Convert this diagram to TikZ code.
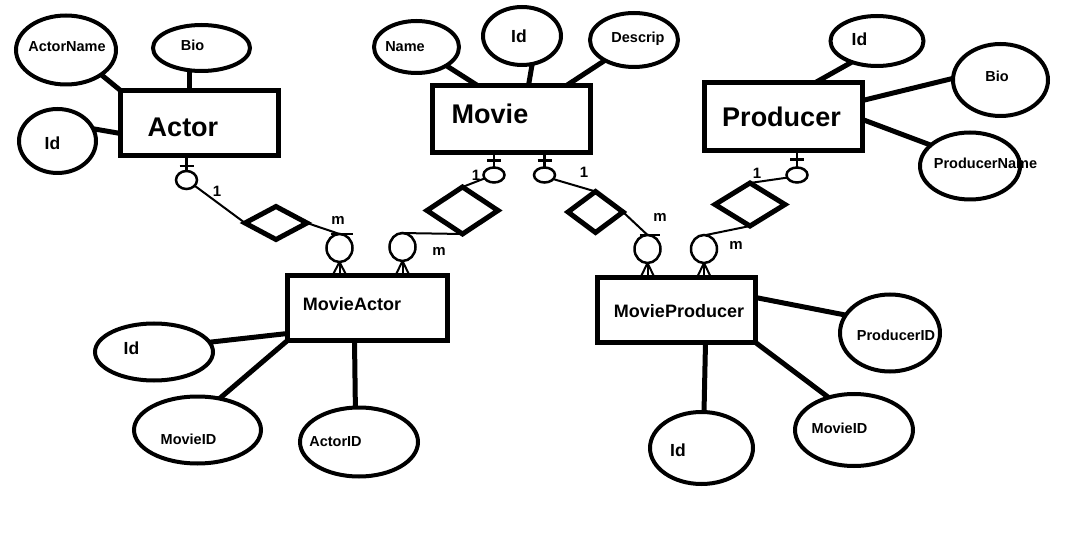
\documentclass[tikz,border=0pt]{standalone}
\usepackage{fontspec}
\setmainfont{Liberation Sans}
\usetikzlibrary{shapes.geometric,calc}
\newcommand\fsz[1]{\fontsize{#1}{#1}\selectfont\bfseries}
\begin{document}
\begin{tikzpicture}[x=1pt,y=-1pt,
  entity/.style={draw,line width=5pt,rectangle,inner sep=0pt,outer sep=0pt},
  attr/.style={draw,line width=4pt,ellipse,inner sep=0pt,outer sep=0pt},
  rel/.style={draw,line width=5pt,diamond,inner sep=0pt,outer sep=0pt,line join=miter},
  crow/.style={draw,line width=2.5pt,ellipse,inner sep=0pt,outer sep=0pt},
  conn/.style={line width=5pt},
  link/.style={line width=2pt},
  txt/.style={anchor=base,inner sep=0pt,outer sep=0pt},
  big/.style={txt,font=\fsz{27}},
  mid/.style={txt,font=\fsz{18}},
  small/.style={txt,font=\fsz{14.5}},
  idt/.style={txt,font=\fsz{17.5}},
  lbl/.style={txt,font=\fsz{15}}]
\fill[white] (0,0) rectangle (1082,553);
\useasboundingbox (0,0) rectangle (1082,553);

% ---------- entities ----------
\node[entity,minimum width=158pt,minimum height=65pt] (actor) at (199.5,123) {};
\node[big] (tactor) at (183,137) {Actor};
\node[entity,minimum width=158pt,minimum height=67pt] (movie) at (511.5,119) {};
\node[big] (tmovie) at (490,124) {Movie};
\node[entity,minimum width=158pt,minimum height=68pt] (producer) at (783.5,116.5) {};
\node[big] (tproducer) at (781.5,127) {Producer};
\node[entity,minimum width=160pt,minimum height=65pt] (ma) at (367.5,308) {};
\node[mid] (tma) at (352,311) {MovieActor};
\node[entity,minimum width=158pt,minimum height=65pt] (mp) at (676.5,310) {};
\node[mid] (tmp) at (679,318) {MovieProducer};

% ---------- attributes ----------
\node[attr,minimum width=100pt,minimum height=69pt] (an) at (66,50) {};
\node[small] at (67,52) {ActorName};
\node[attr,minimum width=97pt,minimum height=46pt] (abio) at (201.5,48) {};
\node[small] at (192.5,51) {Bio};
\node[attr,minimum width=77pt,minimum height=64pt] (aid) at (57.5,141) {};
\node[idt] at (52.5,150) {Id};

\node[attr,minimum width=85pt,minimum height=52pt] (mname) at (416.5,47) {};
\node[small] at (405,52) {Name};
\node[attr,minimum width=78pt,minimum height=58pt] (mid) at (522,36) {};
\node[idt] at (519,43) {Id};
\node[attr,minimum width=88pt,minimum height=54pt] (mdesc) at (634,40) {};
\node[small] at (638,43) {Descrip};

\node[attr,minimum width=93pt,minimum height=50pt] (pid) at (877,41) {};
\node[idt] at (859.5,46) {Id};
\node[attr,minimum width=95pt,minimum height=72pt] (pbio) at (1000.5,80) {};
\node[small] at (997,82) {Bio};
\node[attr,minimum width=100pt,minimum height=67pt] (pname) at (970,166) {};
\node[small] at (985.5,169) {ProducerName};

\node[attr,minimum width=118pt,minimum height=57pt] (maid) at (154,352) {};
\node[idt] at (131.5,355) {Id};
\node[attr,minimum width=127pt,minimum height=67pt] (mamid) at (197.5,430) {};
\node[small] at (188.5,444) {MovieID};
\node[attr,minimum width=118pt,minimum height=69pt] (maaid) at (359,442) {};
\node[small] at (335.5,446) {ActorID};

\node[attr,minimum width=100pt,minimum height=77pt] (mppid) at (890,333) {};
\node[small] at (896,341) {ProducerID};
\node[attr,minimum width=118pt,minimum height=72pt] (mpmid) at (854,430) {};
\node[small] at (839.5,433) {MovieID};
\node[attr,minimum width=103pt,minimum height=72pt] (mpid) at (701.5,448) {};
\node[idt] at (678,456) {Id};

% ---------- attribute connectors ----------
\draw[conn] (an.-35) -- (actor.north west);
\draw[conn] (abio.-118) -- (abio.-118 |- actor.north);
\draw[conn] (aid.19) -- ($(actor.north west)+(0,43)$);

\draw[conn] (mname.-32) -- ($(movie.north west)+(45,0)$);
\draw[conn] (mid.-70) -- ($(movie.north west)+(96,0)$);
\draw[conn] (mdesc.-145) -- ($(movie.north east)+(-24,0)$);

\draw[conn] (pid.-140) -- ($(producer.north west)+(111,0)$);
\draw[conn] ($(producer.north east)+(0,18)$) -- (pbio.178);
\draw[conn] ($(producer.north east)+(0,37)$) -- (pname.152);

\draw[conn] (maid.10) -- ($(ma.north west)+(0,58)$);
\draw[conn] (ma.south west) -- (mamid.55);
\draw[conn] ($(ma.south west)+(67,0)$) -- (maaid.96);

\draw[conn] ($(mp.north east)+(0,20)$) -- (mppid.158);
\draw[conn] (mp.south east) -- (mpmid.128);
\draw[conn] ($(mp.south west)+(108,0)$) -- (mpid.86);

% ---------- relationships ----------
\node[rel,minimum width=62pt,minimum height=33pt] (d1) at (276,223) {};
\node[rel,minimum width=71pt,minimum height=47pt] (d2) at (462.5,210.5) {};
\node[rel,minimum width=55pt,minimum height=41pt] (d3) at (595.5,212) {};
\node[rel,minimum width=70pt,minimum height=43pt] (d4) at (750,204.5) {};

% "one" ends
\node[crow,minimum width=21pt,minimum height=18pt] (ca) at (186.5,180) {};
\node[crow,minimum width=21pt,minimum height=15pt] (cm1) at (494,175) {};
\node[crow,minimum width=21pt,minimum height=15pt] (cm2) at (544.5,175) {};
\node[crow,minimum width=21pt,minimum height=15pt] (cp) at (797,175) {};

\draw[link,line width=2.5pt] (ca.north) -- (ca.north |- actor.south);
\draw[link,line width=2.5pt] ($(ca.north)+(-7,-5)$) -- ($(ca.north)+(7,-5)$);
\draw[link,line width=2.5pt] (cm1.north) -- (cm1.north |- movie.south);
\draw[link,line width=2.5pt] ($(cm1.north)+(-7,-7)$) -- ($(cm1.north)+(7,-7)$);
\draw[link,line width=2.5pt] (cm2.north) -- (cm2.north |- movie.south);
\draw[link,line width=2.5pt] ($(cm2.north)+(-7,-7)$) -- ($(cm2.north)+(7,-7)$);
\draw[link,line width=2.5pt] (cp.north) -- (cp.north |- producer.south);
\draw[link,line width=2.5pt] ($(cp.north)+(-7,-8)$) -- ($(cp.north)+(7,-8)$);

% "many" ends
\node[crow,minimum width=26pt,minimum height=28pt] (m1) at (339.5,248) {};
\node[crow,minimum width=26pt,minimum height=28pt] (m2) at (402.5,247) {};
\node[crow,minimum width=26pt,minimum height=28pt] (m3) at (647.5,249) {};
\node[crow,minimum width=26pt,minimum height=28pt] (m4) at (704,249) {};

\foreach \m/\e in {m1/ma,m2/ma,m3/mp,m4/mp}{
  \draw[link] (\m.south) -- (\m.south |- \e.north);
  \draw[link] (\m.south) -- ($(\m.south |- \e.north)+(-7,0)$);
  \draw[link] (\m.south) -- ($(\m.south |- \e.north)+(7,0)$);
}

% ---------- relationship connectors ----------
\draw[link] (ca.-35) -- (d1.west);
\draw[link] (d1.east) -- (m1.north);
\draw[link] ($(m1.north)+(-9,0)$) -- ($(m1.north)+(13,0)$);
\draw[link] (cm1.200) -- (d2.north);
\draw[link] (d2.south) -- ($(m2.north)+(-2,0)$);
\draw[link] (cm2.-25) -- (d3.north);
\draw[link] (d3.east) -- (m3.north);
\draw[link] ($(m3.north)+(-8,0)$) -- ($(m3.north)+(12,0)$);
\draw[link] (cp.195) -- (d4.north);
\draw[link] (d4.south) -- ($(m4.north)+(2,0)$);

% ---------- cardinality labels ----------
\node[lbl] at (217,197) {1};
\node[lbl] at (338,225) {m};
\node[lbl] at (476,181) {1};
\node[lbl] at (439,256) {m};
\node[lbl] at (584,178) {1};
\node[lbl] at (660,222) {m};
\node[lbl] at (757,179) {1};
\node[lbl] at (736,250) {m};
\end{tikzpicture}
\end{document}
